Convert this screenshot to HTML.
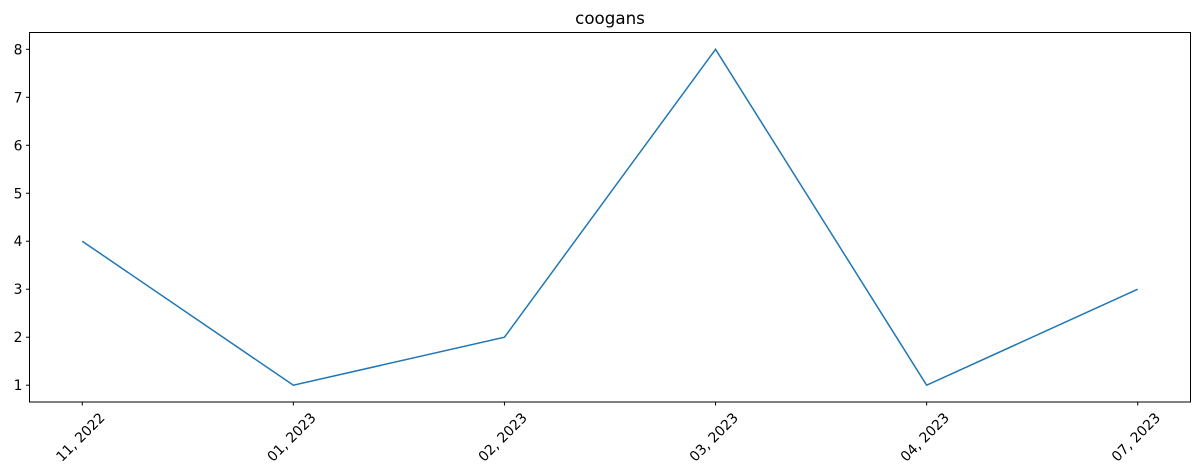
<!DOCTYPE html>
<html><head><meta charset="utf-8"><style>body{margin:0;background:#fff}svg{display:block;font-family:"DejaVu Sans","Liberation Sans",sans-serif}</style></head>
<body>
<svg id="chart" width="1201" height="475">
<rect x="0" y="0" width="1201" height="475" fill="#fff"/>
<text x="610" y="24" text-anchor="middle" font-size="16.7">coogans</text>
<g id="yticks"></g><g id="xticks"></g>
<path id="line" fill="none" stroke="#1f77b4" stroke-width="1.5"/>
<rect x="29.5" y="32.5" width="1161" height="369.5" fill="none" stroke="#000" stroke-width="1"/>
</svg>
<script>
const categories = ["11, 2022","01, 2023","02, 2023","03, 2023","04, 2023","07, 2023"];
const values = [4,1,2,8,1,3];
const yTicks = [1,2,3,4,5,6,7,8];
const L=29.5,R=1190.5,T=32.5,B=402;
const n=categories.length;
const span=n-1, xpad=span*0.05;
function xScale(i){return L+(i+xpad)/(span+2*xpad)*(R-L);}
const ymin=Math.min(...values),ymax=Math.max(...values),pad=(ymax-ymin)*0.05;
function yScale(v){return B-(v-(ymin-pad))/((ymax+pad)-(ymin-pad))*(B-T);}
const NS="http://www.w3.org/2000/svg";
const yg=document.getElementById('yticks'),xg=document.getElementById('xticks');
yTicks.forEach(v=>{
 const y=yScale(v);
 const t=document.createElementNS(NS,'line');
 t.setAttribute('x1',L-3.5);t.setAttribute('x2',L);t.setAttribute('y1',y);t.setAttribute('y2',y);t.setAttribute('stroke','#000');
 
 
 yg.appendChild(t);
 const tx=document.createElementNS(NS,'text');
 tx.setAttribute('x',L-7);tx.setAttribute('y',y+5);tx.setAttribute('text-anchor','end');tx.setAttribute('font-size','13.9');
 tx.textContent=v;
 
 
 yg.appendChild(tx);
});
categories.forEach((c,i)=>{
 const x=xScale(i);
 const t=document.createElementNS(NS,'line');
 t.setAttribute('x1',x);t.setAttribute('x2',x);t.setAttribute('y1',B);t.setAttribute('y2',B+3.5);t.setAttribute('stroke','#000');
 
 
 xg.appendChild(t);
 const tx=document.createElementNS(NS,'text');
 const cx=x-2,cy=437;
 tx.setAttribute('x',cx);tx.setAttribute('y',cy+5);tx.setAttribute('text-anchor','middle');tx.setAttribute('font-size','13.9');
 tx.setAttribute('transform','rotate(-45 '+cx+' '+cy+')');
 tx.textContent=c;
 
 
 xg.appendChild(tx);
});
document.getElementById('line').setAttribute('d',values.map((v,i)=>(i?'L':'M')+xScale(i)+' '+yScale(v)).join(' '));
</script>
</body></html>
